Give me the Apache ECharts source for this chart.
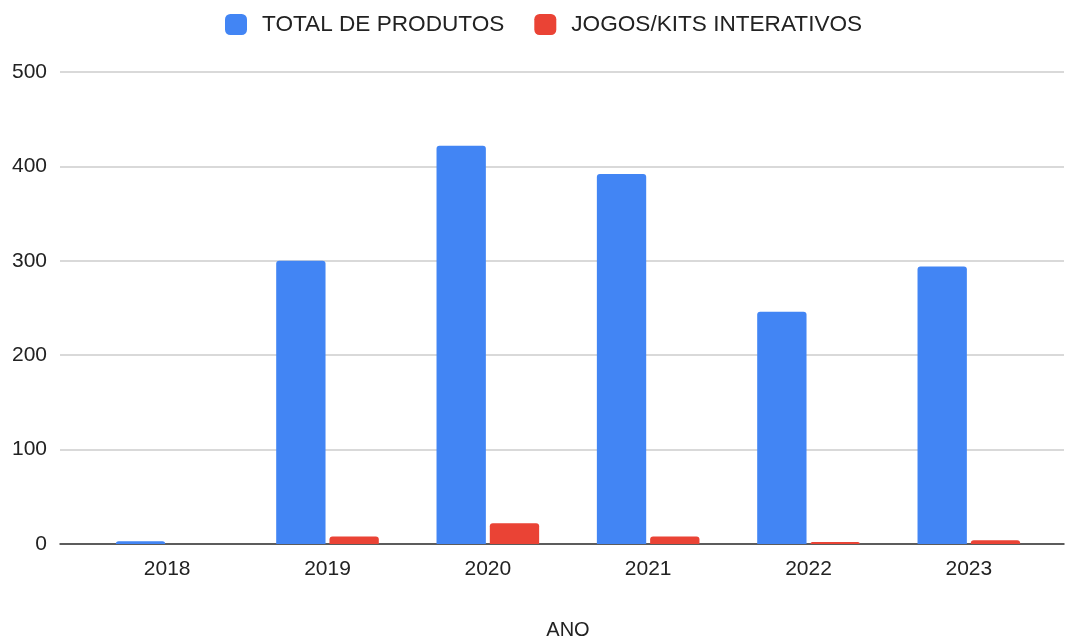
<!DOCTYPE html>
<html>
<head>
<meta charset="utf-8">
<script src="https://cdn.jsdelivr.net/npm/echarts@6/dist/echarts.min.js"></script>
<style>
  html, body { margin: 0; padding: 0; background: #fff; }
  #chart { width: 1067px; height: 637px; }
</style>
</head>
<body>
<div id="chart"></div>
<script>
// dados
var anos = ['2018', '2019', '2020', '2021', '2022', '2023'];
var totalProdutos = [3, 300, 422, 392, 246, 294];
var jogosKits = [0, 8, 22, 8, 2, 4];
var yTicks = [0, 100, 200, 300, 400, 500];

var fonte = '"Liberation Sans", Arial, sans-serif';
var corTexto = '#222222';

var chart = echarts.init(document.getElementById('chart'));

var opt = {
    backgroundColor: '#ffffff',
    textStyle: { fontFamily: fonte },
    legend: {
        left: 225,
        top: 13,
        padding: 0,
        itemWidth: 22,
        itemHeight: 21,
        itemGap: 30,
        icon: 'roundRect',
        textStyle: { fontSize: 22.6, color: corTexto, fontFamily: fonte, padding: [0, 0, 0, 10] },
        data: ['TOTAL DE PRODUTOS', 'JOGOS/KITS INTERATIVOS']
    },
    grid: [
        // grade larga: linhas de grade e rótulos do eixo y
        { left: 60, right: 3, top: 72, bottom: 93, outerBoundsMode: 'none' },
        // grade das barras
        { left: 87, right: 18, top: 72, bottom: 93, outerBoundsMode: 'none' }
    ],
    xAxis: [
        {
            type: 'category', gridIndex: 0, data: anos,
            axisLine: { show: true, lineStyle: { color: '#333333', width: 1.5 } },
            axisTick: { show: false }, axisLabel: { show: false }, splitLine: { show: false }
        },
        {
            type: 'category', gridIndex: 1, data: anos,
            axisLine: { show: false }, axisTick: { show: false },
            axisLabel: { fontSize: 21, color: corTexto, margin: 15, fontFamily: fonte },
            name: 'ANO', nameLocation: 'middle', nameGap: 76,
            nameTextStyle: { fontSize: 20, color: corTexto, fontFamily: fonte }
        }
    ],
    yAxis: [
        {
            type: 'value', gridIndex: 0, min: yTicks[0], max: yTicks[yTicks.length - 1], interval: 100,
            axisLine: { show: false }, axisTick: { show: false },
            axisLabel: { fontSize: 21, color: corTexto, margin: 13, fontFamily: fonte, padding: [4, 0, 0, 0] },
            splitLine: { lineStyle: { color: '#cccccc', width: 1.5 } }
        },
        {
            type: 'value', gridIndex: 1, min: yTicks[0], max: yTicks[yTicks.length - 1], interval: 100,
            show: false
        }
    ],
    series: [
        {
            name: 'TOTAL DE PRODUTOS', type: 'bar', xAxisIndex: 1, yAxisIndex: 1,
            data: totalProdutos, barGap: '8%', barCategoryGap: '36%',
            itemStyle: { color: '#4285F4', borderRadius: [3, 3, 0, 0] }
        },
        {
            name: 'JOGOS/KITS INTERATIVOS', type: 'bar', xAxisIndex: 1, yAxisIndex: 1,
            data: jogosKits, barGap: '8%', barCategoryGap: '36%',
            itemStyle: { color: '#EA4335', borderRadius: [3, 3, 0, 0] }
        }
    ]
};

chart.setOption(opt);
</script>
</body>
</html>
